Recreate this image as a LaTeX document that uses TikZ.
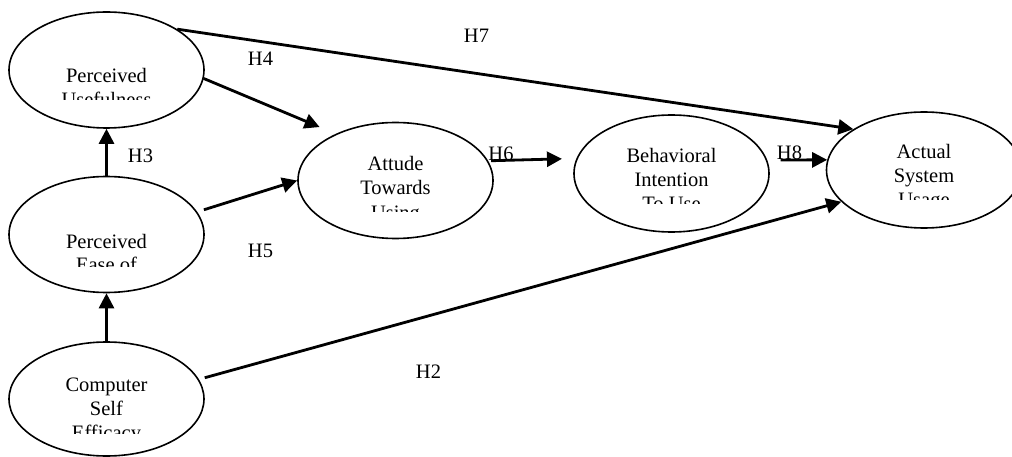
\documentclass[tikz,border=0pt]{standalone}
\usepackage{fontspec}
\setmainfont{Liberation Serif}
\usetikzlibrary{arrows.meta,shapes.geometric}
\tikzset{
  construct/.style={ellipse, draw, line width=1.6pt, minimum width=195pt,
    minimum height=116pt, inner sep=0pt},
  txt/.style={anchor=base, inner sep=0pt, font=\fontsize{20.5}{24.5}\selectfont},
  link/.style={line width=2.8pt, -{Triangle[length=15pt,width=15pt]}}
}
\begin{document}
\begin{tikzpicture}[x=1pt, y=-1pt]
\useasboundingbox (0,0) rectangle (1012,457);

% constructs of the model
\node[construct] (pu)   at (106.5,70)    {};
\node[construct] (peou) at (106.5,234.5) {};
\node[construct, minimum height=114pt] (cse) at (106.5,399) {};
\node[construct] (att)  at (395.5,180.5) {};
\node[construct, minimum height=117pt] (bi) at (671.5,173.5) {};
\node[construct] (asu)  at (924,170)     {};

% construct names; the last line of each is cut by its text frame
\begin{scope}
  \clip (0,0) rectangle (1012,100);
  \node[txt] (pu1) at (106.5,83)  {Perceived};
  \node[txt] (pu2) at (106.5,107) {Usefulness};
\end{scope}
\begin{scope}
  \clip (0,130) rectangle (1012,266);
  \node[txt] (peou1) at (106.5,248) {Perceived};
  \node[txt] (peou2) at (106.5,272) {Ease of};
\end{scope}
\begin{scope}
  \clip (0,340) rectangle (1012,433);
  \node[txt] (cse1) at (106.5,391) {Computer};
  \node[txt] (cse2) at (106.5,415) {Self};
  \node[txt] (cse3) at (106.5,439) {Efficacy};
\end{scope}
\begin{scope}
  \clip (0,120) rectangle (1012,212);
  \node[txt] (att1) at (395.5,171) {Attude};
  \node[txt] (att2) at (395.5,195) {Towards};
  \node[txt] (att3) at (395.5,219) {Using};
\end{scope}
\begin{scope}
  \clip (0,120) rectangle (1012,204);
  \node[txt] (bi1) at (671.5,163) {Behavioral};
  \node[txt] (bi2) at (671.5,187) {Intention};
  \node[txt] (bi3) at (671.5,211) {To Use};
\end{scope}
\begin{scope}
  \clip (0,120) rectangle (1012,200);
  \node[txt] (asu1) at (924,159) {Actual};
  \node[txt] (asu2) at (924,183) {System};
  \node[txt] (asu3) at (924,207) {Usage};
\end{scope}

% hypothesis labels
\node[txt] (h7) at (476.5,43)  {H7};
\node[txt] (h4) at (260.5,66)  {H4};
\node[txt] (h3) at (140.5,163) {H3};
\node[txt] (h5) at (260.5,258) {H5};
\node[txt] (h6) at (501,161)   {H6};
\node[txt] (h8) at (789.5,160) {H8};
\node[txt] (h2) at (428.5,378) {H2};

% hypothesised paths
\draw[link] (pu.30) -- (asu.150);
\draw[link, shorten >=17.5pt] (pu.-5) -- (att.142.5);
\draw[link] (peou.north) -- (pu.south);
\draw[link, shorten <=7pt] (peou.14) -- (att.west);
\draw[link] (cse.north) -- (peou.south);
\draw[link, shorten <=3pt, shorten >=14.5pt] (att.12.7) -- (bi.171.9);
\draw[link, shorten <=13.5pt] (bi.8.1) -- (asu.174.1);
\draw[link, shorten <=6pt] (cse.12.5) -- (asu.201);
\end{tikzpicture}
\end{document}
